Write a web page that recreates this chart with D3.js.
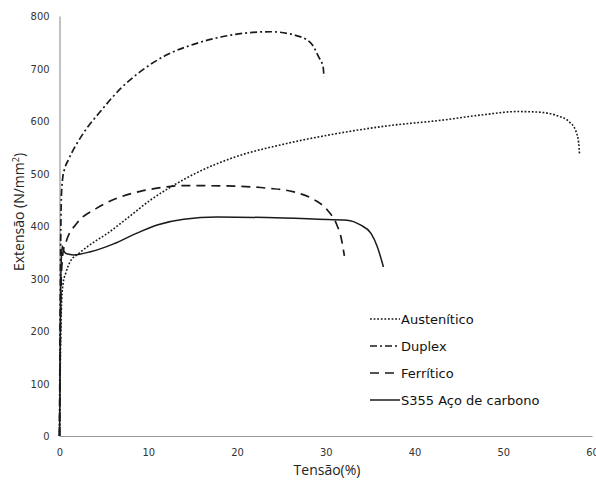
<!DOCTYPE html>
<html>
<head>
<meta charset="utf-8">
<script src="https://cdn.jsdelivr.net/npm/d3@7"></script>
<style>
  body { margin: 0; background: #fff; }
  .tick text { font-family: "Liberation Sans Narrow", "DejaVu Sans Condensed", sans-serif; font-stretch: condensed; font-size: 11px; fill: #333; }
  .title { font-family: "Open Sans", sans-serif; font-size: 14px; fill: #222; }
  .legend text { font-family: "DejaVu Sans", sans-serif; font-size: 13px; fill: #111; }
</style>
</head>
<body>
<div id="chart"></div>
<script>
var width = 596,
  height = 484;

// tensão (%) / extensão (N/mm2)
var austenitico = [[0,0],[0.15,200],[0.25,260],[0.4,290],[0.7,310],[1.2,332],[2.2,348],[3.5,365],[5.4,386],[7.5,413],[10.3,450],[12.5,474],[15.9,505],[19.7,531],[25.3,556],[30.9,575],[36.6,590],[43.3,602],[47.8,612],[51.6,618],[53.9,617],[56.1,610],[57.4,599],[58.2,580],[58.5,558],[58.6,535]];
var duplex = [[0,0],[0.1,300],[0.2,450],[0.35,490],[0.6,510],[1.0,526],[2.7,577],[4.6,618],[6.9,662],[9.1,694],[12.1,726],[15.1,746],[18.2,760],[21.2,768],[23.8,770],[26.4,764],[28.3,749],[29.2,722],[29.7,703],[29.8,684]];
var ferritico = [[0,0],[0.2,300],[0.4,350],[0.8,373],[2.0,406],[4.2,434],[6.5,453],[9.1,466],[11,472],[14,477],[19.7,476],[23.4,472],[26.4,465],[28.7,450],[30.2,430],[31.3,400],[31.7,380],[32.1,343]];
var s355 = [[0,0],[0.15,300],[0.3,362],[0.5,352],[0.8,347],[1.6,345],[3.5,351],[6.1,366],[8.4,384],[11,402],[14,413],[17.8,417],[23.4,416],[29.1,413],[32.4,411],[33.9,402],[35.1,386],[35.8,361],[36.5,322]];

var seriesNames = ["Austenítico", "Duplex", "Ferrítico", "S355 Aço de carbono"];
var xTicks = [0, 10, 20, 30, 40, 50, 60];
var yTicks = [0, 100, 200, 300, 400, 500, 600, 700, 800];

var series = [austenitico, duplex, ferritico, s355];
var dashes = ["1.8,1.8", "7,3,2,3", "9,6", null];
var widths = [1.6, 1.7, 1.7, 1.5];

var x = d3.scaleLinear().domain([0, 60]).range([59.5, 592]);
var y = d3.scaleLinear().domain([0, 800]).range([436, 16]);

var svg = d3.select("#chart")
  .append("svg")
  .attr("width", width)
  .attr("height", height);

//axes
var xAxis = svg.append("g")
  .attr("transform", "translate(0," + y(0) + ")")
  .call(d3.axisBottom(x).tickValues(xTicks).tickSize(0).tickPadding(12));
xAxis.select(".domain").attr("stroke", "#999").attr("stroke-width", 1.2);

var yAxis = svg.append("g")
  .attr("transform", "translate(" + x(0) + ",0)")
  .call(d3.axisLeft(y).tickValues(yTicks).tickSize(0).tickPadding(10));
yAxis.select(".domain").attr("stroke", "#999").attr("stroke-width", 1.2);

//titles
svg.append("text")
  .attr("class", "title")
  .attr("x", 327)
  .attr("y", 475)
  .attr("text-anchor", "middle")
  .text("Tensão(%)");

svg.append("text")
  .attr("class", "title")
  .attr("transform", "translate(24,212) rotate(-90)")
  .attr("text-anchor", "middle")
  .html("Extensão (N/mm<tspan dy='-5' font-size='9'>2</tspan><tspan dy='5'>)</tspan>");

//curves
var line = d3.line()
  .x(function(d) { return x(d[0]); })
  .y(function(d) { return y(d[1]); })
  .curve(d3.curveMonotoneX);

svg.selectAll(".curve")
  .data(series)
  .enter().append("path")
  .attr("class", "curve")
  .attr("d", line)
  .attr("fill", "none")
  .attr("stroke", "#1a1a1a")
  .attr("stroke-width", function(d, i) { return widths[i]; })
  .attr("stroke-dasharray", function(d, i) { return dashes[i]; });

//legend
var legend = svg.append("g").attr("class", "legend");
var rows = legend.selectAll("g")
  .data(seriesNames)
  .enter().append("g")
  .attr("transform", function(d, i) { return "translate(370," + (319 + i * 27) + ")"; });

rows.append("line")
  .attr("x1", 0).attr("x2", 30)
  .attr("stroke", "#1a1a1a")
  .attr("stroke-width", function(d, i) { return widths[i]; })
  .attr("stroke-dasharray", function(d, i) { return dashes[i]; });

rows.append("text")
  .attr("x", 31)
  .attr("dy", "0.35em")
  .text(function(d) { return d; });
</script>
</body>
</html>
